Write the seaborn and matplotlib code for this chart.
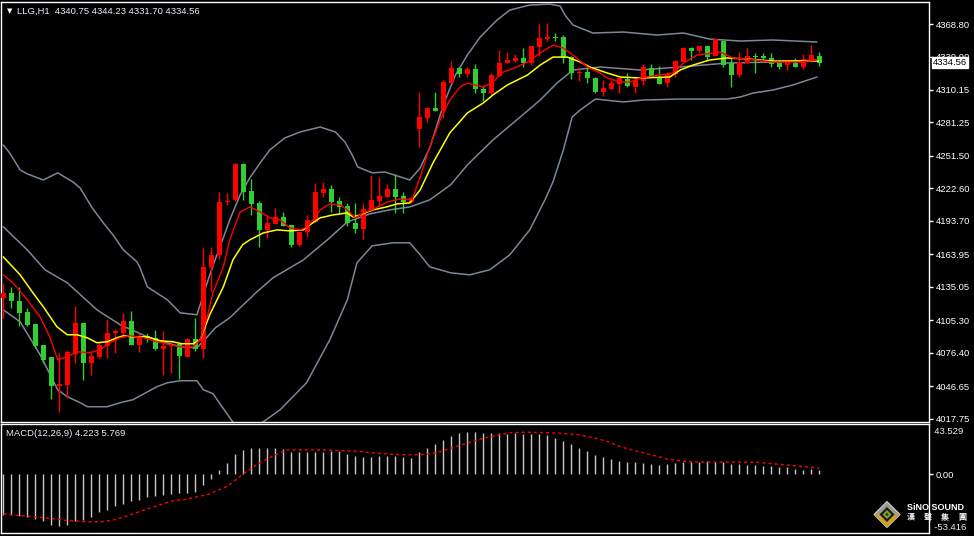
import numpy as np
import pandas as pd
import matplotlib
matplotlib.use("Agg")
import matplotlib.pyplot as plt
import seaborn as sns
from matplotlib.patches import Polygon

sns.set_theme(style="dark")
plt.rcParams['font.family'] = ['Liberation Sans', 'Noto Sans CJK TC', 'DejaVu Sans']

# ---------------- data ----------------
symbol = "LLG,H1"
last_ohlc = [4340.75, 4344.23, 4331.70, 4334.56]
macd_last = [4.223, 5.769]
logo_name = "SiNO SOUND"
logo_chars = ["漢", "聲", "集", "團"]

opens = [4125.0, 4129.4, 4122.6, 4112.8, 4102.2, 4083.5, 4072.2, 4046.4, 4047.9, 4075.5,
         4103.3, 4067.2, 4072.6, 4082.6, 4094.2, 4094.4, 4104.8, 4083.5, 4091.5, 4089.5,
         4080.0, 4082.0, 4084.2, 4072.6, 4088.6, 4080.0, 4152.5, 4163.5, 4210.3, 4212.4,
         4244.3, 4220.4, 4210.0, 4185.7, 4191.0, 4197.5, 4190.1, 4172.4, 4184.2, 4193.1,
         4218.3, 4222.1, 4211.5, 4207.0, 4192.2, 4186.6, 4203.5, 4211.7, 4215.3, 4221.9,
         4215.9, 4210.9, 4275.4, 4285.5, 4294.4, 4291.7, 4316.6, 4329.4, 4324.3, 4328.5,
         4311.0, 4307.7, 4322.8, 4333.8, 4335.9, 4338.8, 4334.4, 4348.6, 4355.4, 4357.5,
         4357.0, 4339.2, 4325.0, 4326.4, 4320.5, 4308.6, 4311.0, 4315.5, 4319.6, 4313.1,
         4318.4, 4329.9, 4321.9, 4316.1, 4324.1, 4335.3, 4347.7, 4345.0, 4349.2, 4340.3,
         4353.9, 4333.8, 4323.5, 4334.4, 4340.6, 4340.3, 4338.3, 4334.4, 4332.3, 4334.4,
         4330.8, 4336.2, 4340.75]
highs = [4138.6, 4134.8, 4134.8, 4116.1, 4102.2, 4083.5, 4072.2, 4076.1, 4079.1, 4118.2,
         4103.3, 4077.6, 4085.0, 4106.6, 4097.7, 4111.7, 4113.1, 4094.4, 4093.9, 4096.2,
         4095.9, 4087.0, 4085.0, 4089.5, 4107.2, 4169.7, 4170.9, 4219.7, 4218.8, 4245.2,
         4245.5, 4230.7, 4211.7, 4199.0, 4205.0, 4202.0, 4190.1, 4185.0, 4199.0, 4227.2,
         4228.6, 4225.7, 4215.3, 4210.0, 4210.0, 4209.4, 4234.6, 4233.1, 4226.6, 4235.5,
         4219.7, 4215.0, 4308.6, 4295.3, 4308.6, 4319.0, 4336.2, 4330.8, 4330.8, 4333.2,
         4314.6, 4325.0, 4345.7, 4343.6, 4342.1, 4347.2, 4349.2, 4368.8, 4369.4, 4360.5,
         4359.0, 4340.3, 4330.8, 4330.8, 4321.9, 4319.0, 4319.0, 4321.4, 4325.5, 4321.4,
         4333.0, 4333.0, 4331.4, 4324.1, 4336.8, 4348.6, 4348.6, 4349.2, 4349.2, 4355.2,
         4353.9, 4339.2, 4344.2, 4347.2, 4342.7, 4342.7, 4342.7, 4335.3, 4336.2, 4338.3,
         4342.1, 4350.1, 4344.23]
lows = [4107.5, 4116.1, 4100.4, 4100.4, 4080.6, 4067.2, 4035.5, 4023.3, 4036.1, 4067.2,
        4052.4, 4056.8, 4071.7, 4071.7, 4076.1, 4092.4, 4083.5, 4076.7, 4086.4, 4079.1,
        4056.8, 4058.3, 4053.0, 4072.6, 4078.2, 4071.7, 4130.9, 4160.0, 4207.9, 4211.5,
        4212.4, 4199.0, 4170.9, 4178.3, 4191.0, 4189.3, 4170.9, 4171.0, 4179.8, 4193.1,
        4215.3, 4202.0, 4200.5, 4189.3, 4182.8, 4177.4, 4202.9, 4207.0, 4215.3, 4201.1,
        4201.1, 4210.0, 4259.7, 4281.4, 4291.7, 4285.0, 4316.6, 4321.4, 4321.4, 4307.7,
        4300.6, 4305.7, 4322.8, 4333.8, 4335.3, 4330.8, 4332.3, 4340.6, 4353.9, 4353.9,
        4334.4, 4319.6, 4318.1, 4316.6, 4307.7, 4304.8, 4311.0, 4307.2, 4313.1, 4307.7,
        4314.6, 4321.9, 4315.5, 4313.1, 4321.9, 4335.3, 4336.8, 4342.7, 4336.8, 4340.3,
        4330.8, 4313.1, 4321.4, 4334.4, 4325.0, 4337.4, 4330.3, 4328.8, 4327.9, 4330.3,
        4328.5, 4336.2, 4331.70]
closes = [4129.4, 4122.0, 4112.2, 4101.3, 4082.0, 4070.2, 4046.4, 4048.9, 4076.7, 4103.3,
          4067.2, 4073.1, 4083.5, 4093.9, 4095.4, 4104.8, 4083.5, 4091.5, 4089.5, 4080.0,
          4082.6, 4083.5, 4073.1, 4088.6, 4080.0, 4153.1, 4163.5, 4210.9, 4211.4, 4244.3,
          4219.7, 4208.8, 4185.7, 4192.2, 4197.5, 4189.3, 4172.4, 4184.2, 4194.6, 4219.7,
          4222.1, 4210.9, 4206.4, 4191.7, 4186.6, 4204.1, 4212.4, 4215.9, 4221.9, 4215.3,
          4210.9, 4213.9, 4285.9, 4294.4, 4291.7, 4317.5, 4329.4, 4324.3, 4328.5, 4310.7,
          4307.7, 4323.5, 4334.4, 4336.8, 4338.8, 4333.8, 4349.2, 4356.6, 4357.5, 4356.1,
          4339.2, 4325.0, 4326.4, 4320.5, 4308.6, 4311.6, 4316.1, 4320.5, 4313.7, 4319.0,
          4330.8, 4321.9, 4315.5, 4324.1, 4335.9, 4347.7, 4345.0, 4349.2, 4339.2, 4355.2,
          4332.3, 4323.5, 4335.3, 4340.3, 4339.7, 4338.3, 4333.2, 4330.8, 4335.3, 4330.8,
          4337.4, 4341.2, 4334.56]

# Bollinger bands (bar index, price)
bb_up_idx = [0, 0.8, 2.1, 3.0, 5.0, 6.8, 8.7, 9.6, 11.1, 12.5, 13.7, 15.0, 16.7, 17.1, 18.0,
             20.5, 22.1, 24.2, 25.0, 25.8, 26.7, 27.5, 28.3, 29.6, 30.8, 32.1, 33.3, 35.2,
             37.1, 39.6, 41.5, 42.7, 43.6, 44.3, 46.1, 47.7, 50.8, 52.1, 53.3, 55.0, 56.5,
             58.0, 59.6, 61.7, 63.3, 65.8, 68.3, 69.6, 70.2, 71.2, 73.7, 77.5, 81.7, 85.0,
             88.3, 92.1, 96.2, 101.7]
bb_up_val = [4261.2, 4254.1, 4239.0, 4235.5, 4230.1, 4236.4, 4228.4, 4223.0, 4205.3, 4191.9,
             4181.3, 4167.9, 4157.3, 4151.9, 4135.0, 4123.5, 4111.9, 4110.2, 4127.9, 4145.7,
             4163.5, 4178.6, 4194.6, 4216.8, 4231.9, 4245.2, 4256.8, 4267.5, 4272.8, 4277.2,
             4272.8, 4263.9, 4252.4, 4241.7, 4236.4, 4237.2, 4230.1, 4240.8, 4258.6, 4296.8,
             4323.4, 4341.2, 4357.2, 4372.3, 4381.2, 4385.7, 4386.5, 4384.8, 4376.8, 4367.9,
             4360.8, 4361.7, 4359.0, 4360.8, 4355.4, 4353.7, 4354.6, 4352.8]
bb_mid_idx = [0, 3.0, 5.2, 8.0, 11.7, 14.6, 18.0, 22.1, 24.2, 25.5, 26.5, 28.3, 29.6, 31.7,
              33.7, 37.5, 40.5, 43.0, 45.8, 48.3, 50.8, 53.3, 55.9, 58.0, 61.2, 64.9, 67.1,
              69.2, 71.2, 74.6, 79.6, 84.6, 90.5, 96.2, 101.7]
bb_mid_val = [4188.4, 4167.9, 4150.2, 4138.6, 4114.6, 4101.3, 4090.6, 4081.7, 4080.8, 4090.6,
              4098.6, 4107.5, 4116.4, 4130.6, 4143.0, 4159.0, 4176.8, 4192.8, 4199.9, 4203.5,
              4206.1, 4212.4, 4225.7, 4243.5, 4265.7, 4287.9, 4301.2, 4316.3, 4327.9, 4330.6,
              4327.9, 4330.6, 4334.1, 4335.0, 4336.8]
bb_low_idx = [0, 2.1, 4.6, 6.8, 8.0, 9.6, 10.5, 13.0, 14.6, 16.2, 19.2, 20.5, 22.1, 24.2,
              25.0, 26.2, 28.3, 29.6, 30.8, 32.5, 34.6, 37.9, 40.8, 43.0, 44.2, 46.1, 48.7,
              50.8, 52.1, 53.3, 55.9, 58.3, 60.8, 63.3, 65.8, 67.7, 68.7, 70.0, 71.1, 72.1,
              74.0, 77.5, 80.0, 84.6, 90.5, 92.1, 93.7, 96.2, 98.7, 101.7]
bb_low_val = [4114.6, 4103.9, 4074.6, 4043.5, 4037.3, 4032.0, 4028.4, 4028.4, 4032.0, 4034.6,
              4046.2, 4049.7, 4051.5, 4051.5, 4043.5, 4040.0, 4018.6, 4006.2, 4003.5, 4015.1,
              4025.7, 4049.7, 4087.9, 4123.5, 4156.4, 4171.5, 4174.2, 4174.2, 4163.5, 4152.8,
              4147.5, 4145.7, 4150.2, 4163.5, 4185.7, 4212.4, 4228.4, 4256.8, 4286.1, 4292.3,
              4302.1, 4299.5, 4301.2, 4302.1, 4302.1, 4303.9, 4307.4, 4310.1, 4314.6, 4321.7]

# moving averages (bar index, price)
ma_slow_idx = [0, 2.1, 3.7, 5.0, 6.7, 8.0, 9.2, 10.5, 11.7, 13.0, 14.2, 15.0, 16.2, 18.0, 19.6,
               21.2, 22.3, 23.7, 24.6, 25.8, 27.5, 28.7, 29.9, 30.8, 32.5, 34.2, 35.8, 37.5,
               38.3, 39.6, 41.2, 43.0, 43.7, 44.6, 46.2, 47.9, 49.2, 50.8, 52.1, 53.7, 55.8,
               58.0, 60.0, 61.2, 63.0, 65.5, 67.1, 68.7, 70.5, 72.1, 73.3, 75.5, 77.1, 79.6,
               83.3, 84.6, 86.2, 88.3, 90.5, 93.0, 96.2, 99.6, 101.9]
ma_slow_val = [4161.7, 4145.7, 4129.7, 4117.3, 4099.5, 4092.4, 4092.4, 4089.7, 4085.3, 4086.2,
               4089.7, 4091.5, 4090.6, 4090.6, 4087.0, 4086.2, 4084.4, 4084.4, 4087.9, 4110.2,
               4135.0, 4159.0, 4172.4, 4176.8, 4183.0, 4185.7, 4184.8, 4185.7, 4190.1, 4196.4,
               4199.0, 4200.8, 4197.2, 4199.0, 4203.5, 4206.1, 4208.8, 4209.7, 4221.2, 4245.2,
               4271.9, 4289.7, 4298.6, 4305.7, 4314.6, 4323.4, 4332.3, 4339.4, 4339.4, 4335.0,
               4330.6, 4325.2, 4321.7, 4320.8, 4321.7, 4327.9, 4332.3, 4336.8, 4338.6, 4337.7,
               4335.9, 4335.9, 4335.9]
ma_fast_idx = [0, 1.2, 3.0, 4.6, 5.8, 6.8, 8.0, 9.2, 10.8, 12.1, 13.3, 14.6, 15.8, 17.5, 19.2,
               20.8, 22.1, 23.7, 24.6, 25.5, 26.2, 27.5, 28.3, 29.6, 30.8, 32.1, 33.3, 34.6,
               35.8, 37.1, 38.0, 38.7, 39.6, 40.8, 42.1, 43.0, 44.0, 45.0, 46.1, 48.0, 49.6,
               51.1, 52.1, 53.3, 54.6, 55.8, 57.1, 58.0, 60.0, 61.2, 62.5, 64.2, 65.5, 67.1,
               68.7, 70.0, 71.2, 73.0, 74.6, 75.5, 77.1, 78.3, 79.6, 81.2, 83.7, 85.0, 86.7,
               88.7, 89.6, 91.2, 93.0, 96.2, 99.6, 101.7]
ma_fast_val = [4145.7, 4138.6, 4123.5, 4108.4, 4090.6, 4070.2, 4072.8, 4077.3, 4076.4, 4079.1,
               4085.3, 4089.7, 4091.5, 4089.7, 4086.2, 4083.5, 4081.7, 4081.7, 4087.9, 4108.4,
               4129.7, 4152.8, 4176.8, 4201.7, 4206.1, 4201.7, 4196.4, 4194.6, 4187.5, 4185.7,
               4188.4, 4194.6, 4203.5, 4208.8, 4207.9, 4203.5, 4196.4, 4200.8, 4203.5, 4210.6,
               4213.2, 4212.4, 4232.8, 4259.5, 4283.5, 4301.2, 4312.8, 4316.3, 4312.8, 4317.2,
               4326.1, 4330.6, 4335.0, 4343.0, 4350.1, 4347.4, 4341.2, 4330.6, 4325.2, 4320.8,
               4317.2, 4317.2, 4320.8, 4322.6, 4325.2, 4334.1, 4341.2, 4343.0, 4343.9, 4338.6,
               4337.7, 4335.0, 4335.0, 4336.8]

# MACD histogram (one per bar) and signal line
macd_hist = [-41.3, -41.3, -43.0, -44.0, -45.7, -48.1, -52.2, -53.4, -52.2, -48.1,
             -46.4, -43.7, -39.0, -36.2, -32.8, -30.1, -27.7, -26.0, -23.3, -21.9,
             -20.9, -19.9, -19.2, -19.2, -18.2, -11.4, -4.6, 4.6, 11.4, 20.9,
             25.0, 26.7, 26.7, 26.7, 26.7, 26.0, 22.6, 22.3, 22.3, 22.3,
             23.0, 24.0, 24.0, 20.9, 18.9, 17.9, 17.9, 18.9, 18.9, 18.9,
             17.9, 16.8, 23.0, 27.0, 31.1, 35.2, 39.3, 42.3, 43.5, 43.4,
             42.3, 42.3, 42.3, 41.3, 42.3, 41.3, 41.3, 41.3, 40.3, 37.2,
             34.2, 31.1, 27.0, 24.0, 19.9, 17.9, 15.8, 13.8, 12.8, 12.8,
             11.7, 10.7, 9.7, 10.7, 11.7, 12.8, 12.8, 12.8, 13.8, 12.8,
             12.8, 10.7, 10.7, 9.7, 9.7, 8.7, 8.7, 7.6, 7.6, 5.6,
             4.6, 5.6, 4.223]
sig_idx = [0, 2, 4, 6, 8, 10.5, 12.5, 14, 16, 18, 21, 23, 25.5, 28, 30, 32, 34, 35.5, 39, 42,
           44.5, 46.5, 49.5, 52, 54, 56, 58, 60, 62, 63.5, 65.5, 67.5, 69.5, 72, 74, 75.5, 77,
           79, 81, 83, 85, 87.5, 92, 94.5, 97.5, 100.5, 102]
sig_val = [-40.6, -42.3, -43.7, -45.4, -47.4, -48.8, -48.5, -46.4, -41.3, -35.5, -27.7, -25.3,
           -20.9, -12.4, 0.5, 11.4, 19.9, 25.0, 25.0, 24.3, 23.3, 21.6, 19.9, 19.9, 21.6, 26.7,
           31.8, 36.9, 40.3, 42.6, 43.0, 42.6, 42.0, 40.3, 36.9, 33.5, 28.4, 24.0, 19.9, 15.5,
           13.1, 12.4, 12.4, 12.0, 9.7, 7.6, 5.769]

price_ticks = [4368.80, 4339.90, 4310.15, 4281.25, 4251.50, 4222.60, 4193.70,
               4163.95, 4135.05, 4105.30, 4076.40, 4046.65, 4017.75]
macd_max, macd_min = 43.529, -53.416

# ---------------- figure ----------------
W, H = 974, 536
fig = plt.figure(figsize=(W / 100, H / 100), dpi=100)
fig.patch.set_facecolor('black')

def axes_px(x0, y0, x1, y1):
    return fig.add_axes([x0 / W, 1 - y1 / H, (x1 - x0) / W, (y1 - y0) / H])

ax = axes_px(1, 2, 929, 422)
axm = axes_px(1, 424, 929, 533)

for a in (ax, axm):
    a.set_facecolor('black')
    a.grid(False)
    for s in a.spines.values():
        s.set_color('white')
        s.set_linewidth(1)
    a.set_xlim(-0.29, 115.7)
    a.set_xticks([])
    a.yaxis.tick_right()
    a.tick_params(axis='y', colors='white', labelcolor='white', length=3, width=1,
                  direction='out', pad=2, labelsize=6.8)

TXT = '#e8eefc'
df = pd.DataFrame(dict(i=np.arange(len(opens)), o=opens, h=highs, l=lows, c=closes))
up = df.c >= df.o
cols = np.where(up, '#ff0000', '#32cd32')

# Bollinger bands
for xi, yv in ((bb_up_idx, bb_up_val), (bb_mid_idx, bb_mid_val), (bb_low_idx, bb_low_val)):
    sns.lineplot(x=xi, y=yv, ax=ax, color='#7b8797', lw=1.1, estimator=None, sort=False, zorder=2)

# candles
ax.vlines(df.i, df.l, df.h, colors=cols, lw=1, zorder=3)
body = (df.c - df.o).abs().clip(lower=0.9)
ax.bar(df.i, body, bottom=np.minimum(df.o, df.c), width=0.62, color=cols, linewidth=0, zorder=3)

# moving averages
sns.lineplot(x=ma_slow_idx, y=ma_slow_val, ax=ax, color='#ffff00', lw=1.1, estimator=None, sort=False, zorder=4)
sns.lineplot(x=ma_fast_idx, y=ma_fast_val, ax=ax, color='#ff0000', lw=1.0, estimator=None, sort=False, zorder=4)

ax.set_ylim(4014.8, 4388.4)
ax.set_yticks(price_ticks)
ax.set_yticklabels([f"{v:.2f}" for v in price_ticks])
ax.set_xlabel(''); ax.set_ylabel('')

# current price box (covers part of the 4339.90 label, as in the terminal)
ax.annotate(f"{last_ohlc[3]:.2f}", xy=(1.0, last_ohlc[3]), xycoords=('axes fraction', 'data'),
            xytext=(3, 0), textcoords='offset points', va='center', ha='left',
            fontsize=6.8, color='black',
            bbox=dict(boxstyle='square,pad=0.12', fc='white', ec='white'), zorder=10,
            annotation_clip=False)

# header
fig.text(7 / W, 1 - 11 / H, '▼', family='DejaVu Sans', fontsize=5, color='white', va='center')
fig.text(17 / W, 1 - 11 / H,
         f"{symbol}  {last_ohlc[0]:.2f} {last_ohlc[1]:.2f} {last_ohlc[2]:.2f} {last_ohlc[3]:.2f}",
         fontsize=6.8, color=TXT, va='center')

# MACD panel
axm.vlines(np.arange(len(macd_hist)), 0, macd_hist, colors='#c8c8c8', lw=1, zorder=2)
sns.lineplot(x=sig_idx, y=sig_val, ax=axm, color='#ff0000', lw=1, estimator=None, sort=False,
             zorder=3, linestyle=(0, (2.2, 2.2)))
axm.set_ylim(-60.2, 51.4)
axm.set_yticks([0])
axm.set_yticklabels(['0.00'])
axm.set_xlabel(''); axm.set_ylabel('')
axm.text(1.0, macd_max, f"  {macd_max:.3f}", transform=axm.get_yaxis_transform(),
         color=TXT, fontsize=6.8, va='center', ha='left')
fig.text(6 / W, 1 - 434 / H,
         f"MACD(12,26,9) {macd_last[0]:.3f} {macd_last[1]:.3f}", fontsize=6.8, color=TXT, va='center')

# logo (SINO SOUND)
def px(x, y):
    return (x / W, 1 - y / H)

cx, cy, r = 887, 514.5, 13
fig.patches.append(Polygon([px(cx, cy - r), px(cx + r, cy), px(cx, cy + r), px(cx - r, cy)],
                           closed=True, fc='#9a9a9a', ec='#d0d0d0', lw=0.8, transform=fig.transFigure))
fig.patches.append(Polygon([px(cx - r, cy), px(cx + r, cy), px(cx, cy + r)],
                           closed=True, fc='#c9a227', ec='none', transform=fig.transFigure))
ri = 7.5
fig.patches.append(Polygon([px(cx, cy - ri), px(cx + ri, cy), px(cx, cy + ri), px(cx - ri, cy)],
                           closed=True, fc='#1a1a1a', ec='none', transform=fig.transFigure))
fig.patches.append(Polygon([px(cx, cy - 4.5), px(cx + 4.5, cy), px(cx, cy + 4.5), px(cx - 4.5, cy)],
                           closed=True, fc='#7fa32a', ec='none', transform=fig.transFigure))
fig.patches.append(Polygon([px(cx, cy - 1.8), px(cx + 1.8, cy), px(cx, cy + 1.8), px(cx - 1.8, cy)],
                           closed=True, fc='#2a3a10', ec='none', transform=fig.transFigure))
fig.text(907 / W, 1 - 508 / H, logo_name, fontsize=6.5, fontweight='bold', color='white',
         va='center', ha='left')
for k, ch in enumerate(logo_chars):
    fig.text((911 + 17 * k) / W, 1 - 517.3 / H, ch, family=['Noto Sans CJK TC', 'DejaVu Sans'],
             fontsize=5.8, fontweight='bold', color='white', va='center', ha='center')

axm.text(1.0, -54.7, f"  {macd_min:.3f}", transform=axm.get_yaxis_transform(),
         color=TXT, fontsize=6.8, va='center', ha='left', zorder=10)

fig.savefig('out.png', dpi=100, facecolor='black')
